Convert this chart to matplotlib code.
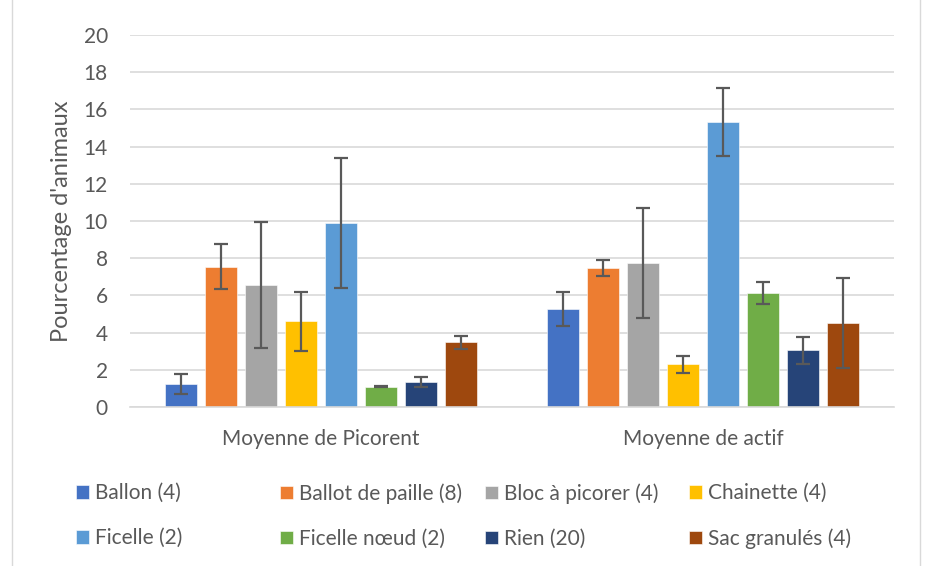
import numpy as np
from matplotlib import pyplot as plt
from matplotlib.patches import Rectangle

plt.rcParams['font.family'] = ['Lato', 'DejaVu Sans']

groups = ['Moyenne de Picorent', 'Moyenne de actif']
series = ['Ballon (4)', 'Ballot de paille (8)', 'Bloc à picorer (4)', 'Chainette (4)',
          'Ficelle (2)', 'Ficelle nœud (2)', 'Rien (20)', 'Sac granulés (4)']
colors = ['#4472c4', '#ed7d31', '#a5a5a5', '#ffc000',
          '#5b9bd5', '#70ad47', '#264478', '#9e480e']

picorent = [1.22, 7.55, 6.56, 4.6, 9.9, 1.09, 1.33, 3.47]
picorent_err = [0.53, 1.2, 3.4, 1.6, 3.5, 0.03, 0.27, 0.33]
actif = [5.27, 7.46, 7.75, 2.29, 15.32, 6.12, 3.04, 4.52]
actif_err = [0.89, 0.43, 2.94, 0.44, 1.85, 0.59, 0.73, 2.4]

yticks = [0, 2, 4, 6, 8, 10, 12, 14, 16, 18, 20]

fig = plt.figure(figsize=(9.28, 5.66), dpi=100)
ax = fig.add_axes([130 / 928, 1 - 407 / 566, 764 / 928, 372 / 566])

step = 0.1047
width = 0.084
x = np.arange(len(groups))
for i, name in enumerate(series):
    pos = x + (i - 3.5) * step
    ax.bar(pos, [picorent[i], actif[i]], width, color=colors[i], zorder=2,
           edgecolor='white', linewidth=0.4, label=name)
    ax.errorbar(pos, [picorent[i], actif[i]], yerr=[picorent_err[i], actif_err[i]],
                fmt='none', ecolor='#595959', elinewidth=1.6, capsize=5, capthick=1.6, zorder=3)

ax.set_xlim(-0.5, 1.5)
ax.set_ylim(0, 20)
ax.set_yticks(yticks)
ax.set_xticks(x)
ax.set_xticklabels(groups)
ax.yaxis.grid(True, color='#d9d9d9', linewidth=1.2, zorder=0)
ax.set_axisbelow(True)
for s in ['top', 'right', 'left']:
    ax.spines[s].set_visible(False)
ax.spines['bottom'].set_color('#d9d9d9')
ax.spines['bottom'].set_linewidth(1.2)
ax.tick_params(axis='both', length=0, labelsize=15, labelcolor='#595959')
ax.tick_params(axis='x', pad=16)
ax.tick_params(axis='y', pad=16)
ax.set_ylabel("Pourcentage d'animaux", fontsize=17, color='#595959', labelpad=8)

# legend: 4 columns of equal width, like Excel
handles, labels = ax.get_legend_handles_labels()
col_x = [68, 272, 477, 681]
for j in range(4):
    leg = fig.legend([handles[j], handles[j + 4]], [labels[j], labels[j + 4]],
                     loc='upper left', bbox_to_anchor=(col_x[j] / 928, 1 - 475 / 566),
                     frameon=False, fontsize=15, handlelength=0.6, handleheight=0.6,
                     handletextpad=0.3, labelspacing=1.2, borderaxespad=0)
    for t in leg.get_texts():
        t.set_color('#595959')

fig.patches.append(Rectangle((12 / 928, -0.01), 908 / 928, 1.02, transform=fig.transFigure,
                             fill=False, edgecolor='#d9d9d9', linewidth=1))

fig.savefig('out.png', dpi=100)
